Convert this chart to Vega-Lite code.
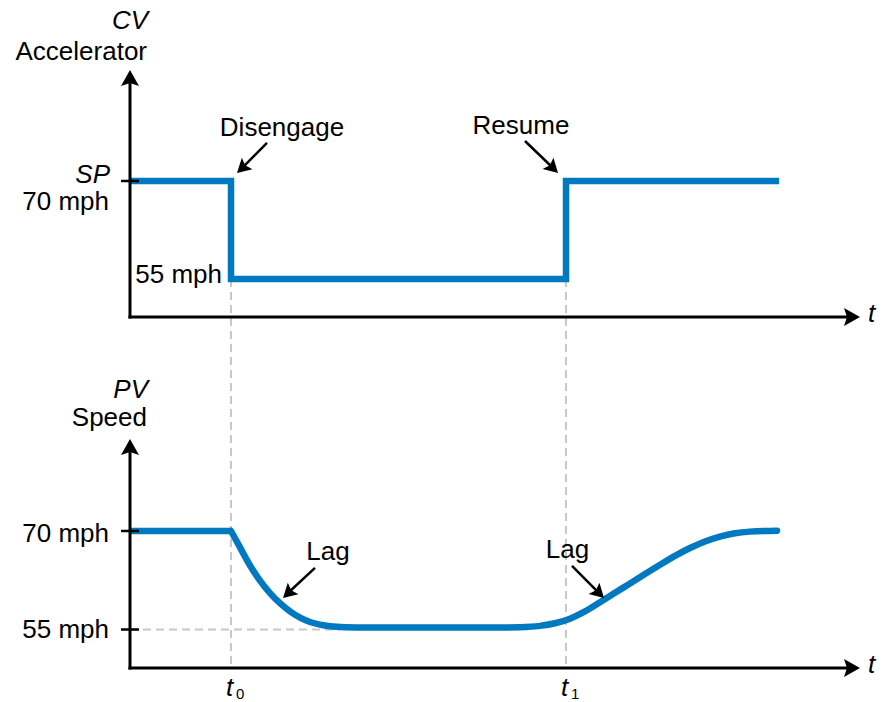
{
  "$schema": "https://vega.github.io/schema/vega-lite/v6.json",
  "background": "white",
  "padding": {"left": 15, "top": 7, "right": 8, "bottom": 0},
  "bounds": "flush",
  "spacing": 122,
  "config": {"view": {"stroke": null}},
  "datasets": {
    "cvSignal": [
      {"t": 0, "v": 70}, {"t": 1.01, "v": 55}, {"t": 4.36, "v": 70}, {"t": 6.49, "v": 70}
    ],
    "pvHold": [
      {"t": 0, "v": 70}, {"t": 1.01, "v": 70}
    ],
    "pvResponse": [
      {"t": 1.01, "v": 70}, {"t": 1.1, "v": 67.5}, {"t": 1.2, "v": 64.75}, {"t": 1.3, "v": 62.45},
      {"t": 1.4, "v": 60.55}, {"t": 1.5, "v": 59.0}, {"t": 1.6, "v": 57.75}, {"t": 1.7, "v": 56.8},
      {"t": 1.8, "v": 56.15}, {"t": 1.9, "v": 55.75}, {"t": 2.0, "v": 55.5}, {"t": 2.15, "v": 55.35},
      {"t": 2.37, "v": 55.3}, {"t": 3.0, "v": 55.3}, {"t": 3.6, "v": 55.3}, {"t": 3.9, "v": 55.35},
      {"t": 4.1, "v": 55.55}, {"t": 4.25, "v": 55.95}, {"t": 4.4, "v": 56.65}, {"t": 4.55, "v": 57.75},
      {"t": 4.7, "v": 59.15}, {"t": 4.85, "v": 60.6}, {"t": 5.0, "v": 62.0}, {"t": 5.15, "v": 63.45},
      {"t": 5.3, "v": 64.85}, {"t": 5.45, "v": 66.2}, {"t": 5.6, "v": 67.4}, {"t": 5.75, "v": 68.4},
      {"t": 5.9, "v": 69.15}, {"t": 6.05, "v": 69.65}, {"t": 6.2, "v": 69.9}, {"t": 6.47, "v": 70.05}
    ],
    "axesTop": [
      {"t": 0, "v": 49.18, "t2": 0, "v2": 85.5},
      {"t": 0, "v": 49.18, "t2": 7.18, "v2": 49.18}
    ],
    "axesBottom": [
      {"t": 0, "v": 49.14, "t2": 0, "v2": 82.6},
      {"t": 0, "v": 49.14, "t2": 7.18, "v2": 49.14}
    ],
    "ticksTop": [{"t": -0.09, "t2": 0.09, "v": 70}],
    "ticksBottom": [{"t": -0.09, "t2": 0.09, "v": 70}, {"t": -0.09, "t2": 0.09, "v": 55}],
    "headsTop": [
      {"t": 0, "v": 86.99, "heading": "up"},
      {"t": 7.3, "v": 49.18, "heading": "right"},
      {"t": 1.07, "v": 71.22, "heading": "down-left"},
      {"t": 4.28, "v": 71.22, "heading": "down-right"}
    ],
    "headsBottom": [
      {"t": 0, "v": 84.0, "heading": "up"},
      {"t": 7.3, "v": 49.14, "heading": "right"},
      {"t": 1.53, "v": 59.8, "heading": "down-left"},
      {"t": 4.74, "v": 59.8, "heading": "down-right"}
    ],
    "pointersTop": [
      {"t": 1.37, "v": 75.82, "t2": 1.112, "v2": 71.86},
      {"t": 3.95, "v": 76.12, "t2": 4.238, "v2": 71.87}
    ],
    "pointersBottom": [
      {"t": 1.85, "v": 64.37, "t2": 1.572, "v2": 60.44},
      {"t": 4.42, "v": 64.67, "t2": 4.698, "v2": 60.44}
    ],
    "guidesVertical": [
      {"t": 1.01, "v": 55, "v2": -4.54},
      {"t": 4.36, "v": 55, "v2": -4.54}
    ],
    "guidesHorizontal": [{"t": 0, "t2": 2.1, "v": 55}],
    "textTop": [
      {"t": 0.18, "v": 93.27, "label": "CV", "role": "variable"},
      {"t": 0.17, "v": 88.52, "label": "Accelerator", "role": "name"},
      {"t": -0.2, "v": 69.69, "label": "SP", "role": "variable"},
      {"t": -0.21, "v": 65.56, "label": "70 mph", "role": "name"},
      {"t": 0.92, "v": 54.39, "label": "55 mph", "role": "name"},
      {"t": 1.52, "v": 76.89, "label": "Disengage", "role": "event"},
      {"t": 3.91, "v": 77.19, "label": "Resume", "role": "event"},
      {"t": 7.38, "v": 48.46, "label": "t", "role": "axis"}
    ],
    "textBottom": [
      {"t": 0.18, "v": 90.25, "label": "PV", "role": "variable"},
      {"t": 0.17, "v": 85.99, "label": "Speed", "role": "name"},
      {"t": -0.21, "v": 68.37, "label": "70 mph", "role": "name"},
      {"t": -0.21, "v": 53.75, "label": "55 mph", "role": "name"},
      {"t": 1.98, "v": 65.58, "label": "Lag", "role": "event"},
      {"t": 4.375, "v": 65.89, "label": "Lag", "role": "event"},
      {"t": 7.38, "v": 48.42, "label": "t", "role": "axis"},
      {"t": 0.96, "v": 44.87, "label": "t", "role": "axis"},
      {"t": 1.06, "v": 44.42, "label": "0", "role": "sub"},
      {"t": 4.31, "v": 44.87, "label": "t", "role": "axis"},
      {"t": 4.41, "v": 44.42, "label": "1", "role": "sub"}
    ]
  },
  "vconcat": [
    {
      "width": 730,
      "height": 247,
      "encoding": {
        "x": {"field": "t", "type": "quantitative", "scale": {"domain": [0, 7.3], "nice": false, "zero": false}, "axis": null},
        "y": {"field": "v", "type": "quantitative", "scale": {"domain": [49.18, 86.99], "nice": false, "zero": false}, "axis": null}
      },
      "layer": [
        {
          "data": {"name": "guidesVertical"},
          "mark": {"type": "rule", "color": "#c8c8c8", "strokeWidth": 2, "strokeDash": [8, 5]},
          "encoding": {"y2": {"field": "v2"}}
        },
        {
          "data": {"name": "cvSignal"},
          "mark": {"type": "line", "interpolate": "step-after", "color": "#0079C1", "strokeWidth": 6.5, "strokeJoin": "miter", "strokeCap": "butt"}
        },
        {
          "data": {"name": "axesTop"},
          "mark": {"type": "rule", "color": "black", "strokeWidth": 3, "strokeCap": "square"},
          "encoding": {"x2": {"field": "t2"}, "y2": {"field": "v2"}}
        },
        {
          "data": {"name": "ticksTop"},
          "mark": {"type": "rule", "color": "black", "strokeWidth": 2.5},
          "encoding": {"x2": {"field": "t2"}}
        },
        {
          "data": {"name": "pointersTop"},
          "mark": {"type": "rule", "color": "black", "strokeWidth": 2.5},
          "encoding": {"x2": {"field": "t2"}, "y2": {"field": "v2"}}
        },
        {
          "data": {"name": "headsTop"},
          "transform": [{"filter": "datum.heading === 'up'"}],
          "mark": {"type": "point", "shape": "M0,0L0.9,1.6L0,1.3L-0.9,1.6Z", "size": 400, "angle": 0, "filled": true, "color": "black", "opacity": 1}
        },
        {
          "data": {"name": "headsTop"},
          "transform": [{"filter": "datum.heading === 'right'"}],
          "mark": {"type": "point", "shape": "M0,0L0.9,1.6L0,1.3L-0.9,1.6Z", "size": 400, "angle": 90, "filled": true, "color": "black", "opacity": 1}
        },
        {
          "data": {"name": "headsTop"},
          "transform": [{"filter": "datum.heading === 'down-left'"}],
          "mark": {"type": "point", "shape": "M0,0L0.9,1.6L0,1.3L-0.9,1.6Z", "size": 300, "angle": 227, "filled": true, "color": "black", "opacity": 1}
        },
        {
          "data": {"name": "headsTop"},
          "transform": [{"filter": "datum.heading === 'down-right'"}],
          "mark": {"type": "point", "shape": "M0,0L0.9,1.6L0,1.3L-0.9,1.6Z", "size": 300, "angle": 134, "filled": true, "color": "black", "opacity": 1}
        },
        {
          "data": {"name": "textTop"},
          "transform": [{"filter": "datum.role === 'variable'"}],
          "mark": {"type": "text", "align": "right", "baseline": "alphabetic", "font": "Liberation Sans", "fontSize": 26, "fontStyle": "italic", "color": "black"},
          "encoding": {"text": {"field": "label"}}
        },
        {
          "data": {"name": "textTop"},
          "transform": [{"filter": "datum.role === 'name'"}],
          "mark": {"type": "text", "align": "right", "baseline": "alphabetic", "font": "Liberation Sans", "fontSize": 26, "color": "black"},
          "encoding": {"text": {"field": "label"}}
        },
        {
          "data": {"name": "textTop"},
          "transform": [{"filter": "datum.role === 'event'"}],
          "mark": {"type": "text", "align": "center", "baseline": "alphabetic", "font": "Liberation Sans", "fontSize": 26, "color": "black"},
          "encoding": {"text": {"field": "label"}}
        },
        {
          "data": {"name": "textTop"},
          "transform": [{"filter": "datum.role === 'axis'"}],
          "mark": {"type": "text", "align": "left", "baseline": "alphabetic", "font": "Liberation Sans", "fontSize": 26, "fontStyle": "italic", "color": "black"},
          "encoding": {"text": {"field": "label"}}
        }
      ]
    },
    {
      "width": 730,
      "height": 229,
      "encoding": {
        "x": {"field": "t", "type": "quantitative", "scale": {"domain": [0, 7.3], "nice": false, "zero": false}, "axis": null},
        "y": {"field": "v", "type": "quantitative", "scale": {"domain": [49.14, 84.0], "nice": false, "zero": false}, "axis": null}
      },
      "layer": [
        {
          "data": {"name": "guidesHorizontal"},
          "mark": {"type": "rule", "color": "#c8c8c8", "strokeWidth": 2, "strokeDash": [8, 5]},
          "encoding": {"x2": {"field": "t2"}}
        },
        {
          "data": {"name": "pvHold"},
          "mark": {"type": "line", "color": "#0079C1", "strokeWidth": 6.5, "strokeCap": "butt"}
        },
        {
          "data": {"name": "pvResponse"},
          "mark": {"type": "line", "interpolate": "monotone", "color": "#0079C1", "strokeWidth": 6.5, "strokeCap": "round"}
        },
        {
          "data": {"name": "axesBottom"},
          "mark": {"type": "rule", "color": "black", "strokeWidth": 3, "strokeCap": "square"},
          "encoding": {"x2": {"field": "t2"}, "y2": {"field": "v2"}}
        },
        {
          "data": {"name": "ticksBottom"},
          "mark": {"type": "rule", "color": "black", "strokeWidth": 2.5},
          "encoding": {"x2": {"field": "t2"}}
        },
        {
          "data": {"name": "pointersBottom"},
          "mark": {"type": "rule", "color": "black", "strokeWidth": 2.5},
          "encoding": {"x2": {"field": "t2"}, "y2": {"field": "v2"}}
        },
        {
          "data": {"name": "headsBottom"},
          "transform": [{"filter": "datum.heading === 'up'"}],
          "mark": {"type": "point", "shape": "M0,0L0.9,1.6L0,1.3L-0.9,1.6Z", "size": 400, "angle": 0, "filled": true, "color": "black", "opacity": 1}
        },
        {
          "data": {"name": "headsBottom"},
          "transform": [{"filter": "datum.heading === 'right'"}],
          "mark": {"type": "point", "shape": "M0,0L0.9,1.6L0,1.3L-0.9,1.6Z", "size": 400, "angle": 90, "filled": true, "color": "black", "opacity": 1}
        },
        {
          "data": {"name": "headsBottom"},
          "transform": [{"filter": "datum.heading === 'down-left'"}],
          "mark": {"type": "point", "shape": "M0,0L0.9,1.6L0,1.3L-0.9,1.6Z", "size": 300, "angle": 227, "filled": true, "color": "black", "opacity": 1}
        },
        {
          "data": {"name": "headsBottom"},
          "transform": [{"filter": "datum.heading === 'down-right'"}],
          "mark": {"type": "point", "shape": "M0,0L0.9,1.6L0,1.3L-0.9,1.6Z", "size": 300, "angle": 134, "filled": true, "color": "black", "opacity": 1}
        },
        {
          "data": {"name": "textBottom"},
          "transform": [{"filter": "datum.role === 'variable'"}],
          "mark": {"type": "text", "align": "right", "baseline": "alphabetic", "font": "Liberation Sans", "fontSize": 26, "fontStyle": "italic", "color": "black"},
          "encoding": {"text": {"field": "label"}}
        },
        {
          "data": {"name": "textBottom"},
          "transform": [{"filter": "datum.role === 'name'"}],
          "mark": {"type": "text", "align": "right", "baseline": "alphabetic", "font": "Liberation Sans", "fontSize": 26, "color": "black"},
          "encoding": {"text": {"field": "label"}}
        },
        {
          "data": {"name": "textBottom"},
          "transform": [{"filter": "datum.role === 'event'"}],
          "mark": {"type": "text", "align": "center", "baseline": "alphabetic", "font": "Liberation Sans", "fontSize": 26, "color": "black"},
          "encoding": {"text": {"field": "label"}}
        },
        {
          "data": {"name": "textBottom"},
          "transform": [{"filter": "datum.role === 'axis'"}],
          "mark": {"type": "text", "align": "left", "baseline": "alphabetic", "font": "Liberation Sans", "fontSize": 26, "fontStyle": "italic", "color": "black"},
          "encoding": {"text": {"field": "label"}}
        },
        {
          "data": {"name": "textBottom"},
          "transform": [{"filter": "datum.role === 'sub'"}],
          "mark": {"type": "text", "align": "left", "baseline": "alphabetic", "font": "Liberation Sans", "fontSize": 15, "color": "black"},
          "encoding": {"text": {"field": "label"}}
        }
      ]
    }
  ]
}
